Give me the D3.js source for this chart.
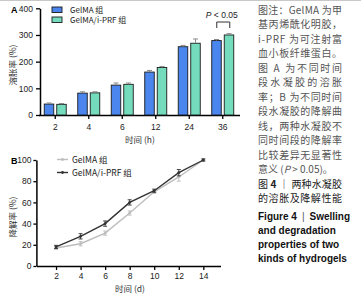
<!DOCTYPE html>
<html>
<head>
<meta charset="utf-8">
<script src="https://cdn.jsdelivr.net/npm/d3@7"></script>
<style>
  body { margin: 0; background: #fff; }
  svg { display: block; }
  text { font-family: "Liberation Sans", Arial, "Noto Sans CJK SC", sans-serif; }
  .cjk { font-family: "Noto Sans CJK SC", sans-serif; }
</style>
</head>
<body>
<div id="container"></div>
<script>
/* CONSTANTS AND GLOBALS */
const width = 361;
const height = 295;

// panel A data (swelling, %)
const hoursA = ["2", "4", "6", "12", "24", "36"];
const gelma = [41, 82, 112, 161, 256, 279];
const gelmaErr = [4, 5, 8, 6, 5, 4];
const gelmaPrf = [40, 83, 115, 178, 269, 300];
const gelmaPrfErr = [3, 4, 5, 4, 16, 5];
const ticksA = [0, 100, 200, 300, 400];

// panel B data (degradation, %)
const daysB = [2, 4, 6, 8, 10, 12, 14];
const degGelma = [17, 21, 31, 50, 70, 84, 100];
const degGelmaErr = [1.5, 2, 2, 2, 1.5, 4, 1];
const degPrf = [18, 28, 40, 60, 71, 88, 100];
const degPrfErr = [1.5, 2.5, 2.5, 2.5, 1.5, 3, 1];
const ticksB = [0, 20, 40, 60, 80, 100];

const legendNames = ["GelMA 组", "GelMA/i-PRF 组"];

const captionCn = [
  "图注：GelMA 为甲",
  "基丙烯酰化明胶，",
  "i-PRF 为可注射富",
  "血小板纤维蛋白。",
  "图 A 为不同时间",
  "段水凝胶的溶胀",
  "率；B 为不同时间",
  "段水凝胶的降解曲",
  "线，两种水凝胶不",
  "同时间段的降解率",
  "比较差异无显著性"
];
const captionEn = ["and degradation", "properties of two", "kinds of hydrogels"];

const blue = "#4a86ee";
const green = "#74dcbc";

// CREATE SVG ELEMENT
const svg = d3.select("#container")
  .append("svg")
  .attr("width", width)
  .attr("height", height);

svg.append("line")
  .attr("x1", 0).attr("x2", width)
  .attr("y1", 0.5).attr("y2", 0.5)
  .attr("stroke", "#c8c8c8");

/* ---------- PANEL A ---------- */
const xA = d3.scaleBand().domain(hoursA).range([38.5, 239.5]);
const yA = d3.scaleLinear().domain([0, 400]).range([115, 8.3]);

const axA = svg.append("g")
  .attr("transform", "translate(40,0)")
  .call(d3.axisLeft(yA).tickValues(ticksA).tickSize(4).tickPadding(3).tickSizeOuter(0));
axA.select(".domain").attr("stroke-width", 1.5);
axA.selectAll("line").attr("stroke-width", 1.3);
axA.selectAll("text").attr("font-size", 8.5).attr("fill", "#222");

const axAx = svg.append("g")
  .attr("transform", "translate(0,115)")
  .call(d3.axisBottom(xA).tickSize(4).tickPadding(5).tickSizeOuter(0));
axAx.select(".domain").attr("stroke-width", 1.5);
axAx.selectAll("line").attr("stroke-width", 1.3);
axAx.selectAll("text").attr("font-size", 8.5).attr("fill", "#222");

const barW = 9.5;
function drawBars(vals, errs, dx, color) {
  svg.append("g").selectAll("rect")
    .data(vals)
    .join("rect")
    .attr("x", (d, i) => xA(hoursA[i]) + xA.bandwidth() / 2 + dx)
    .attr("y", d => yA(d))
    .attr("width", barW)
    .attr("height", d => yA(0) - yA(d))
    .attr("fill", color)
    .attr("stroke", "#1a1a1a")
    .attr("stroke-width", 0.9);
  const eb = svg.append("g").attr("stroke", "#8a8a8a").attr("stroke-width", 1);
  vals.forEach((v, i) => {
    const cx = xA(hoursA[i]) + xA.bandwidth() / 2 + dx + barW / 2;
    eb.append("line").attr("x1", cx).attr("x2", cx).attr("y1", yA(v)).attr("y2", yA(v + errs[i]));
    eb.append("line").attr("x1", cx - 2.5).attr("x2", cx + 2.5).attr("y1", yA(v + errs[i])).attr("y2", yA(v + errs[i]));
  });
}
drawBars(gelma, gelmaErr, -11, blue);
drawBars(gelmaPrf, gelmaPrfErr, 1.5, green);

// significance bracket
const c36 = xA("36") + xA.bandwidth() / 2;
svg.append("path")
  .attr("d", `M${c36 - 6},28V22H${c36 + 7}V28`)
  .attr("fill", "none").attr("stroke", "#333").attr("stroke-width", 1);
const pTxt = svg.append("text")
  .attr("x", c36 - 1).attr("y", 17.5)
  .attr("text-anchor", "middle").attr("font-size", 8.5).attr("fill", "#222");
pTxt.append("tspan").attr("font-style", "italic").text("P");
pTxt.append("tspan").text(" < 0.05");

// legend A
[blue, green].forEach((c, i) => {
  svg.append("rect").attr("x", 52).attr("y", 7 + i * 10).attr("width", 10).attr("height", 5.5)
    .attr("fill", c).attr("stroke", "#1a1a1a").attr("stroke-width", 0.9);
  svg.append("text").attr("class", "cjk").attr("x", 70).attr("y", 12.5 + i * 10)
    .attr("font-size", 8).attr("fill", "#222").text(legendNames[i]);
});

svg.append("text").attr("x", 11).attr("y", 13).attr("font-size", 9).attr("font-weight", "bold").text("A");
svg.append("text").attr("class", "cjk")
  .attr("transform", "translate(15.5,65) rotate(-90)")
  .attr("text-anchor", "middle").attr("font-size", 8.5).attr("fill", "#333").text("溶胀率 (%)");
svg.append("text").attr("class", "cjk").attr("x", 140).attr("y", 143)
  .attr("text-anchor", "middle").attr("font-size", 8.5).attr("fill", "#333").text("时间 (h)");

/* ---------- PANEL B ---------- */
const xB = d3.scaleLinear().domain([0.4, 15.4]).range([36.4, 220.5]);
const yB = d3.scaleLinear().domain([0, 100]).range([266, 160]);

const axB = svg.append("g")
  .attr("transform", "translate(36.4,0)")
  .call(d3.axisLeft(yB).tickValues(ticksB).tickSize(3).tickPadding(2).tickSizeOuter(0));
axB.select(".domain").attr("stroke-width", 1.5);
axB.selectAll("line").attr("stroke-width", 1.3);
axB.selectAll("text").attr("font-size", 8.5).attr("fill", "#222");

const axBx = svg.append("g")
  .attr("transform", "translate(0,266)")
  .call(d3.axisBottom(xB).tickValues(daysB).tickSize(4).tickPadding(3).tickSizeOuter(0));
axBx.select(".domain").attr("stroke-width", 1.5);
axBx.selectAll("line").attr("stroke-width", 1.3);
axBx.selectAll("text").attr("font-size", 8.5).attr("fill", "#222");

function drawSeries(vals, errs, color, w) {
  const line = d3.line().x((d, i) => xB(daysB[i])).y(d => yB(d));
  svg.append("path").datum(vals)
    .attr("d", line).attr("fill", "none").attr("stroke", color).attr("stroke-width", w);
  const g = svg.append("g").attr("stroke", color).attr("stroke-width", 0.9);
  vals.forEach((v, i) => {
    const cx = xB(daysB[i]);
    g.append("line").attr("x1", cx).attr("x2", cx).attr("y1", yB(v - errs[i])).attr("y2", yB(v + errs[i]));
    g.append("line").attr("x1", cx - 2).attr("x2", cx + 2).attr("y1", yB(v + errs[i])).attr("y2", yB(v + errs[i]));
    g.append("line").attr("x1", cx - 2).attr("x2", cx + 2).attr("y1", yB(v - errs[i])).attr("y2", yB(v - errs[i]));
  });
  svg.append("g").selectAll("circle").data(vals).join("circle")
    .attr("cx", (d, i) => xB(daysB[i])).attr("cy", d => yB(d)).attr("r", 1.4).attr("fill", color);
}
drawSeries(degGelma, degGelmaErr, "#bdbdbd", 1.4);
drawSeries(degPrf, degPrfErr, "#333", 1.4);

// legend B
["#bdbdbd", "#333"].forEach((c, i) => {
  const ly = 159.5 + i * 13;
  svg.append("line").attr("x1", 57).attr("x2", 68).attr("y1", ly).attr("y2", ly)
    .attr("stroke", c).attr("stroke-width", 1.4);
  svg.append("circle").attr("cx", 62.5).attr("cy", ly).attr("r", 1.4).attr("fill", c);
  svg.append("text").attr("class", "cjk").attr("x", 72).attr("y", ly + 3)
    .attr("font-size", 8.5).attr("fill", "#222").text(legendNames[i]);
});

svg.append("text").attr("x", 11).attr("y", 164).attr("font-size", 9).attr("font-weight", "bold").text("B");
svg.append("text").attr("class", "cjk")
  .attr("transform", "translate(15.5,217) rotate(-90)")
  .attr("text-anchor", "middle").attr("font-size", 8.5).attr("fill", "#333").text("降解率 (%)");
svg.append("text").attr("class", "cjk").attr("x", 130).attr("y", 292)
  .attr("text-anchor", "middle").attr("font-size", 8.5).attr("fill", "#333").text("时间 (d)");

/* ---------- CAPTION ---------- */
const capX = 258, capW = 84, lh = 14.5, cy0 = 13.5;
captionCn.forEach((t, i) => {
  svg.append("text").attr("class", "cjk")
    .attr("x", capX).attr("y", cy0 + i * lh)
    .attr("font-size", 10).attr("fill", "#555")
    .attr("textLength", capW).attr("lengthAdjust", "spacing")
    .text(t);
});
const pLine = svg.append("text").attr("class", "cjk")
  .attr("x", capX).attr("y", cy0 + 11 * lh).attr("font-size", 10).attr("fill", "#555");
pLine.append("tspan").text("意义 (");
pLine.append("tspan").attr("font-style", "italic").text("P");
pLine.append("tspan").text(" > 0.05)。");

svg.append("text").attr("class", "cjk")
  .attr("x", capX).attr("y", cy0 + 12 * lh).attr("font-size", 10).attr("fill", "#222")
  .attr("textLength", capW).attr("lengthAdjust", "spacing")
  .html('图 <tspan font-weight="bold">4</tspan> ｜ 两种水凝胶');
svg.append("text").attr("class", "cjk")
  .attr("x", capX).attr("y", cy0 + 13 * lh).attr("font-size", 10).attr("fill", "#222")
  .attr("textLength", capW).attr("lengthAdjust", "spacing")
  .text("的溶胀及降解性能");

// english caption, first line with a thin separator
const fig = svg.append("text")
  .attr("x", capX).attr("y", 219.5)
  .attr("font-family", "Lato, sans-serif")
  .attr("font-size", 10).attr("font-weight", "bold").attr("fill", "#111");
fig.append("tspan").text("Figure 4");
fig.append("tspan").attr("dx", 5).attr("font-weight", "normal").attr("fill", "#555").text("|");
fig.append("tspan").attr("dx", 5).text("Swelling");
captionEn.forEach((t, i) => {
  svg.append("text")
    .attr("x", capX).attr("y", 233.5 + i * 14)
    .attr("font-family", "Lato, sans-serif")
    .attr("font-size", 10).attr("font-weight", "bold").attr("fill", "#111")
    .text(t);
});
</script>
</body>
</html>
